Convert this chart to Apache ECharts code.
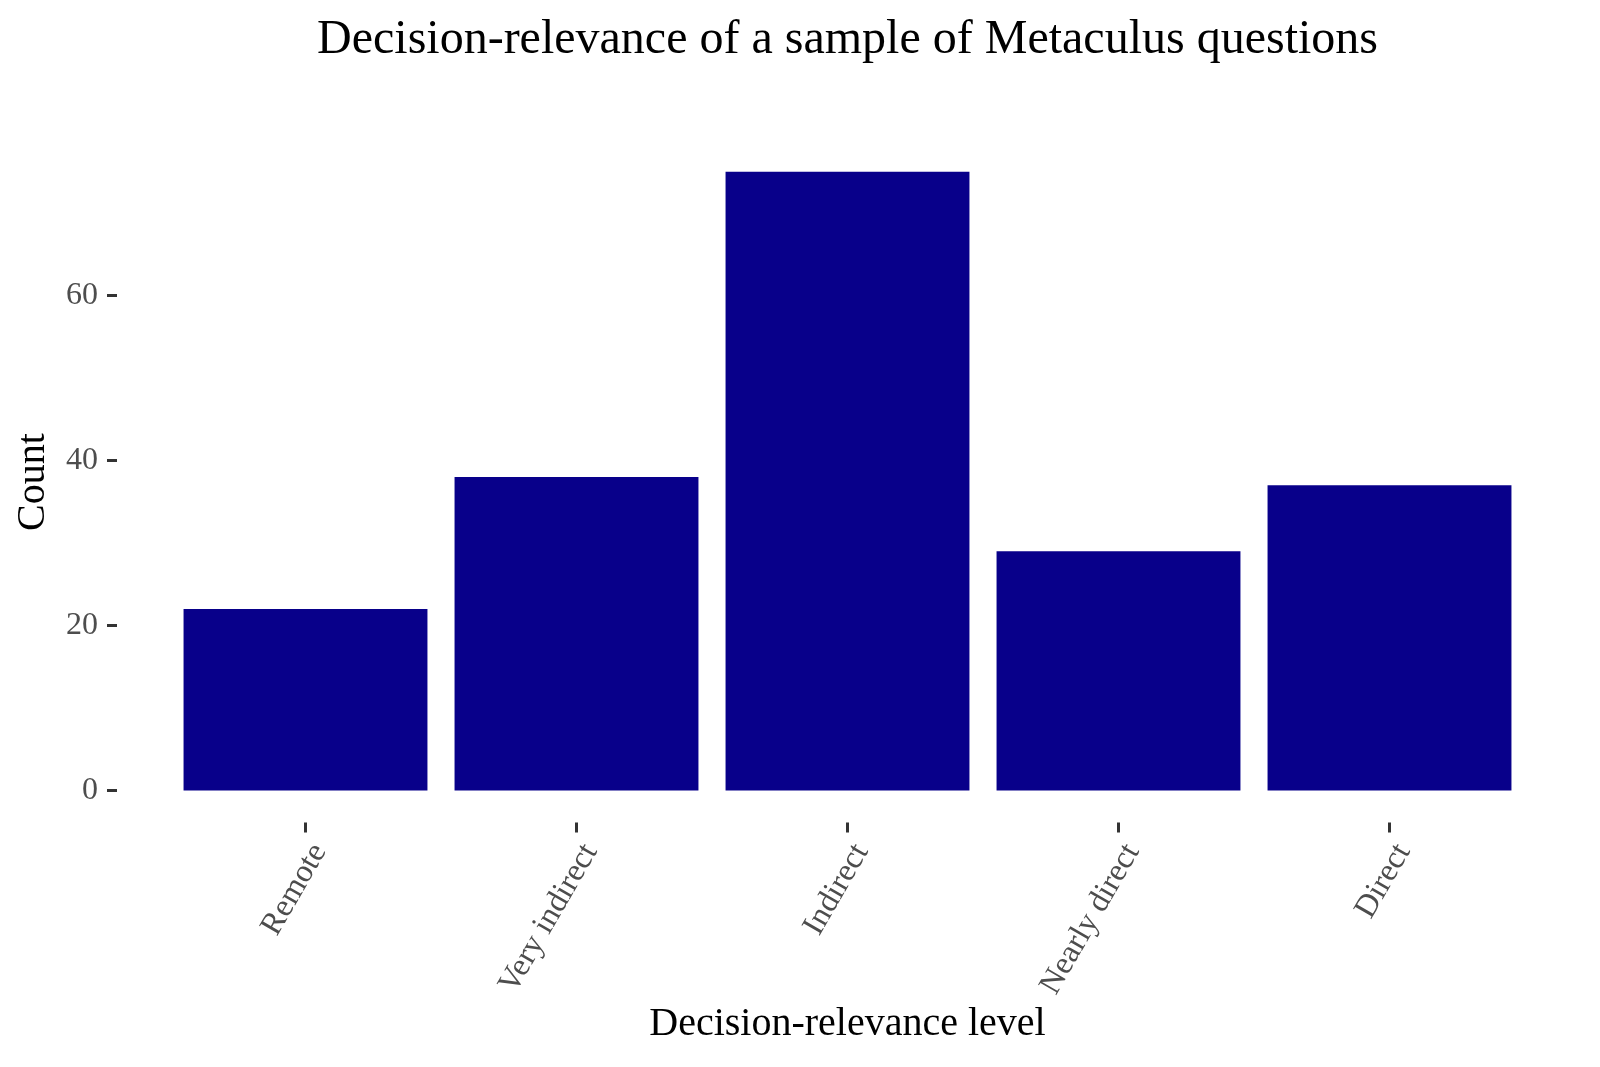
<!DOCTYPE html>
<html>
<head>
<meta charset="utf-8">
<script src="https://cdn.jsdelivr.net/npm/echarts@6/dist/echarts.min.js"></script>
<style>
html,body{margin:0;padding:0;background:#fff;}
#chart{width:1600px;height:1067px;}
</style>
</head>
<body>
<div id="chart"></div>
<script>
const categories = ['Remote', 'Very indirect', 'Indirect', 'Nearly direct', 'Direct'];
const counts = [22, 38, 75, 29, 37];
const yTicks = [0, 20, 40, 60];
const titleText = 'Decision-relevance of a sample of Metaculus questions';
const xTitle = 'Decision-relevance level';
const yTitle = 'Count';

const FONT = '"Liberation Serif", "DejaVu Serif", serif';
const chart = echarts.init(document.getElementById('chart'), null, {renderer: 'canvas'});
const yMax = Math.max(...counts) * 1.05;

chart.setOption({
  animation: false,
  backgroundColor: '#ffffff',
  grid: {left: 170, right: 75, top: 790.5 - yMax * 8.25, bottom: 1067 - 790.5, containLabel: false},
  xAxis: {
    type: 'category',
    data: categories,
    offset: 32,
    axisLine: {show: false, onZero: false},
    axisTick: {show: true, alignWithLabel: true, length: 10, lineStyle: {color: '#333333', width: 3}},
    axisLabel: {rotate: 60, color: '#4d4d4d', fontFamily: FONT, fontSize: 32, margin: 16, interval: 0, align: 'right', verticalAlign: 'top'},
    splitLine: {show: false}
  },
  yAxis: {
    type: 'value',
    min: 0,
    max: yMax,
    interval: 20,
    offset: 53,
    axisLine: {show: false, onZero: false},
    axisTick: {show: true, length: 10, lineStyle: {color: '#333333', width: 3}},
    axisLabel: {
      color: '#4d4d4d', fontFamily: FONT, fontSize: 32, margin: 19,
      showMaxLabel: false,
      formatter: v => (yTicks.indexOf(v) >= 0 ? String(v) : '')
    },
    splitLine: {show: false}
  },
  series: [{
    type: 'bar',
    data: counts,
    barWidth: '90%',
    itemStyle: {color: '#08008a'}
  }],
  graphic: [
    {type: 'text', x: 847.5, y: 40, style: {text: titleText, fontFamily: FONT, fontSize: 48, fill: '#000', textAlign: 'center', textVerticalAlign: 'middle'}},
    {type: 'text', x: 847.5, y: 1024, style: {text: xTitle, fontFamily: FONT, fontSize: 40, fill: '#000', textAlign: 'center', textVerticalAlign: 'middle'}},
    {type: 'text', x: 33, y: 482, rotation: Math.PI / 2, style: {text: yTitle, fontFamily: FONT, fontSize: 40, fill: '#000', textAlign: 'center', textVerticalAlign: 'middle'}}
  ]
});
</script>
</body>
</html>
